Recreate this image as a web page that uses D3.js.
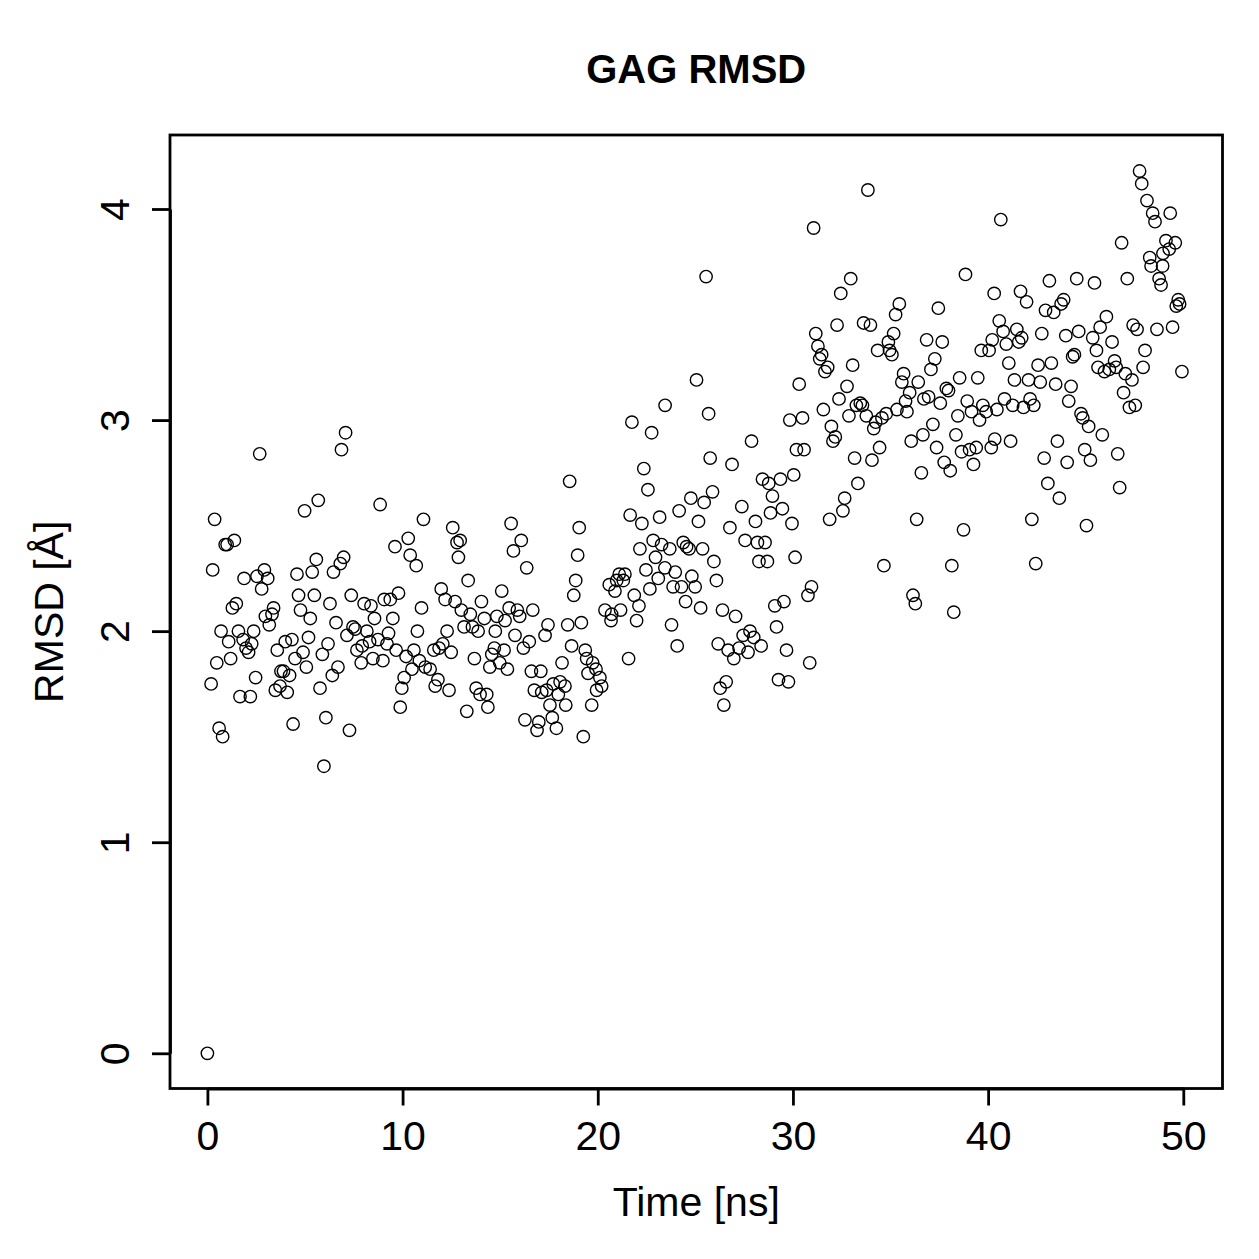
<!DOCTYPE html>
<html>
<head>
<meta charset="utf-8">
<script src="https://cdn.jsdelivr.net/npm/d3@7"></script>
<style>
  body { margin: 0; background: #fff; }
  text { font-family: "Liberation Sans", Arial, Helvetica, sans-serif; fill: #000; }
</style>
</head>
<body>
<svg id="rmsd-plot"></svg>
<script>
//chart texts
let titleText = 'GAG RMSD'
let xLabel = 'Time [ns]'
let yLabel = 'RMSD [Å]'

//tick labels
let xTicks = [0, 10, 20, 30, 40, 50]
let yTicks = [0, 1, 2, 3, 4]

//time (ns), grouped by region
let timeNs = [
  // 0 - 10 ns
  7.08,6.87,2.68,5.68,4.98,8.85,0.37,0.91,1.01,1.38,
  0.27,5.58,6.98,6.81,5.37,4.59,6.46,2.92,2.54,3.09,
  1.88,2.78,4.67,5.48,6.28,7.37,8.03,8.38,9.06,9.37,
  1.48,1.28,4.77,5.27,6.59,8.56,3.39,2.97,3.31,3.17,
  0.70,1.59,2.37,1.09,1.83,2.27,1.98,2.11,7.46,7.57,
  7.15,8.17,9.28,5.18,6.18,5.89,4.33,3.99,3.58,4.90,
  4.49,5.07,7.66,7.93,8.31,8.74,9.20,8.48,7.88,8.99,
  0.48,1.19,6.69,6.40,0.19,2.47,3.77,3.90,4.21,3.72,
  3.48,4.09,5.77,1.67,2.20,0.60,0.78,4.39,6.07,7.28,
  5.97,0.00,
  // 10 - 20 ns
  18.56,11.07,12.57,12.79,12.95,12.86,15.56,16.08,15.68,16.36,
  19.05,18.97,18.87,18.77,9.61,10.29,10.39,10.70,13.36,9.79,
  10.97,11.98,12.18,12.69,13.01,13.47,14.04,14.19,15.08,
  15.46,15.88,16.00,16.67,14.83,15.25,9.50,
  10.76,13.15,13.58,13.87,14.75,15.76,16.49,16.19,17.30,17.45,
  18.46,19.16,12.28,12.06,11.60,11.87,12.49,10.58,9.67,10.18,
  14.70,14.57,15.20,14.98,15.37,14.47,13.68,10.86,11.16,11.41,
  11.81,11.67,10.48,10.08,9.96,9.88,12.38,13.77,13.97,14.31,
  14.37,13.29,18.66,18.17,19.36,19.43,19.74,19.91,19.50,19.94,
  19.69,16.60,17.08,16.75,17.13,17.38,17.72,18.07,18.32,17.98,
  17.55,18.36,16.27,16.98,16.89,17.67,17.88,19.26,20.11,20.20,
  // 20 - 30 ns
  25.55,25.06,23.45,21.75,22.76,25.68,27.88,29.84,30.32,30.18,
  22.36,22.57,25.76,26.88,28.44,28.76,29.36,30.04,28.95,29.46,
  28.85,29.95,30.11,24.77,25.45,25.88,24.17,25.16,23.17,21.66,
  22.26,27.38,28.08,26.77,27.55,28.18,28.57,28.26,28.69,22.84,
  23.27,23.69,22.16,24.38,24.55,24.68,25.37,25.95,22.96,22.47,
  23.10,23.44,23.97,24.82,26.08,21.10,21.39,21.31,20.97,20.59,
  20.88,22.67,23.86,24.29,24.99,21.87,22.11,21.17,20.37,20.71,
  20.68,21.99,24.50,25.27,26.39,27.06,23.78,24.07,21.58,29.07,
  29.54,29.16,29.67,29.26,29.77,26.17,26.68,26.97,27.24,27.45,
  27.80,27.99,28.37,27.70,26.27,26.58,26.46,
  // 30 - 40 ns
  33.84,31.06,38.84,32.96,32.45,35.45,35.26,37.45,32.26,33.62,
  33.97,35.16,34.89,34.95,35.07,34.34,31.17,31.28,31.47,31.37,
  31.78,31.64,36.85,37.65,37.27,37.07,39.65,40.05,33.06,32.77,
  32.36,31.56,32.87,31.97,32.17,32.05,35.67,35.58,36.42,35.98,
  35.77,35.84,35.33,34.78,34.56,34.24,34.14,33.76,33.45,33.25,
  33.56,38.54,39.47,37.86,37.97,36.95,36.71,37.55,38.93,39.73,
  39.90,39.15,39.56,38.45,37.17,36.66,36.06,37.36,38.35,38.64,
  39.05,39.39,37.75,38.06,39.25,36.58,30.49,30.57,34.44,34.05,
  33.16,33.33,32.65,32.56,31.88,36.34,38.74,34.66,38.14,36.15,
  36.27,38.24,30.95,30.77,30.86,
  // 40 - 50 ns
  47.76,47.87,48.14,48.43,48.55,49.33,40.65,46.84,49.11,49.59,
  49.28,48.96,48.28,48.35,48.94,48.76,48.86,43.14,44.54,45.45,
  47.13,40.31,41.66,41.97,43.87,43.74,43.36,42.94,49.74,49.81,
  49.64,40.57,40.77,41.47,41.72,41.57,40.93,40.21,42.75,43.98,
  44.64,45.36,45.74,46.06,46.35,45.55,47.43,47.63,48.65,49.45,
  48.04,44.42,44.33,41.06,42.56,43.24,45.63,45.96,46.21,46.48,
  46.56,47.03,47.37,47.94,49.93,41.35,42.07,42.67,43.46,44.25,
  44.13,40.84,41.26,40.45,41.81,42.15,42.34,46.94,47.24,47.54,
  44.76,44.85,45.15,45.85,40.34,40.16,41.15,43.55,42.87,44.05,
  44.95,45.24,46.64,43.06,43.65,46.74,42.24,45.04,42.44
]

//RMSD (Å), same order as timeNs
let rmsdA = [
  // 0 - 10 ns
  2.94,2.86,2.84,2.62,2.57,2.60,2.53,2.41,2.41,2.43,
  2.29,2.34,2.35,2.32,2.28,2.27,2.28,2.29,2.26,2.25,
  2.25,2.20,2.17,2.17,2.13,2.17,2.13,2.12,2.15,2.15,
  2.13,2.11,2.10,2.06,2.04,2.06,2.11,2.07,2.08,2.03,
  2.00,2.00,2.00,1.95,1.96,1.94,1.92,1.90,2.02,2.01,
  1.98,2.00,1.99,1.97,1.94,1.89,1.96,1.95,1.91,1.90,
  1.87,1.83,1.91,1.93,1.95,1.96,1.94,1.87,1.85,1.86,
  1.85,1.87,1.83,1.79,1.75,1.78,1.81,1.81,1.79,1.74,
  1.72,1.71,1.73,1.69,1.69,1.54,1.50,1.56,1.59,1.53,
  1.36,0.00,
  // 10 - 20 ns
  2.71,2.53,2.49,2.42,2.43,2.35,2.51,2.43,2.38,2.30,
  2.49,2.36,2.24,2.17,2.40,2.44,2.36,2.31,2.24,2.18,
  2.11,2.20,2.15,2.14,2.10,2.08,2.14,2.06,2.19,
  2.11,2.10,2.07,2.10,2.07,2.05,2.06,
  2.00,2.02,2.02,2.00,2.00,1.98,1.95,1.92,1.98,2.03,
  2.03,2.04,2.00,1.94,1.91,1.92,1.90,1.91,1.91,1.88,
  1.92,1.89,1.91,1.85,1.82,1.83,1.87,1.86,1.83,1.82,
  1.77,1.74,1.82,1.78,1.73,1.64,1.72,1.73,1.70,1.70,
  1.64,1.62,1.93,1.85,1.91,1.87,1.85,1.82,1.80,1.72,
  1.65,1.81,1.81,1.72,1.71,1.72,1.75,1.76,1.74,1.70,
  1.65,1.65,1.58,1.57,1.53,1.59,1.54,1.50,1.78,1.74,
  // 20 - 30 ns
  3.68,3.19,3.07,2.99,2.94,3.03,2.90,3.00,3.17,2.86,
  2.77,2.67,2.82,2.79,2.72,2.70,2.72,2.74,2.64,2.58,
  2.56,2.51,2.35,2.63,2.61,2.66,2.57,2.52,2.54,2.55,
  2.51,2.59,2.52,2.49,2.43,2.42,2.42,2.33,2.33,2.43,
  2.41,2.39,2.39,2.42,2.40,2.39,2.39,2.33,2.35,2.29,
  2.25,2.30,2.28,2.26,2.24,2.27,2.27,2.24,2.24,2.22,
  2.19,2.20,2.21,2.21,2.21,2.17,2.12,2.10,2.10,2.08,
  2.05,2.05,2.14,2.11,2.10,2.07,2.03,1.93,1.87,2.12,
  2.14,2.02,1.91,1.77,1.76,1.94,1.91,1.87,1.92,1.98,
  2.00,1.97,1.93,1.90,1.73,1.76,1.65,
  // 30 - 40 ns
  4.09,3.91,3.69,3.67,3.60,3.55,3.50,3.53,3.45,3.46,
  3.45,3.41,3.37,3.33,3.31,3.33,3.41,3.35,3.31,3.29,
  3.25,3.23,3.38,3.37,3.29,3.24,3.33,3.33,3.26,3.16,
  3.10,3.05,3.02,2.97,2.92,2.90,3.22,3.18,3.18,3.13,
  3.09,3.04,3.05,3.03,3.01,2.99,2.96,3.02,3.08,3.07,
  3.07,3.20,3.20,3.15,3.14,3.11,3.10,3.08,3.09,3.07,
  3.04,3.04,3.00,3.02,2.98,2.93,2.90,2.87,2.93,2.85,
  2.86,2.87,2.80,2.76,2.79,2.75,3.01,2.86,2.87,2.81,
  2.82,2.70,2.63,2.57,2.53,2.53,2.48,2.31,2.31,2.17,
  2.13,2.09,2.21,2.17,1.85,
  // 40 - 50 ns
  4.18,4.12,4.04,3.98,3.94,3.98,3.95,3.84,3.85,3.84,
  3.81,3.79,3.77,3.73,3.73,3.67,3.64,3.66,3.67,3.65,
  3.67,3.60,3.61,3.56,3.57,3.55,3.51,3.52,3.57,3.55,
  3.54,3.47,3.42,3.43,3.39,3.37,3.36,3.38,3.41,3.40,
  3.42,3.39,3.44,3.49,3.37,3.33,3.45,3.43,3.43,3.44,
  3.33,3.31,3.30,3.27,3.26,3.27,3.25,3.23,3.24,3.28,
  3.25,3.22,3.19,3.25,3.23,3.19,3.19,3.18,3.17,3.16,
  3.09,3.10,3.07,3.05,3.06,3.10,3.07,3.13,3.06,3.07,
  3.03,3.01,2.97,2.93,2.91,2.87,2.90,2.90,2.82,2.80,
  2.86,2.81,2.84,2.70,2.63,2.68,2.53,2.50,2.32
]

//pair up time and rmsd
let points = timeNs.map((t, i) => ({ t: t, r: rmsdA[i] }))

//page and plotting box
let outerWidth = 1259
let outerHeight = 1259
let box = { left: 170, right: 1222.5, top: 135, bottom: 1088.5 }

let svg = d3
  .select('svg#rmsd-plot')
  .attr('width', outerWidth)
  .attr('height', outerHeight)

//scales (R style: ticks sit inside the box with 4% padding)
let xScale = d3.scaleLinear().domain([0, 50]).range([207.4, 1183.3])
let yScale = d3.scaleLinear().domain([0, 4]).range([1053.3, 209])

//x axis
let xAxis = d3.axisBottom(xScale)
  .tickValues(xTicks)
  .tickFormat(d3.format('d'))
  .tickSize(17)
  .tickSizeOuter(0)
let gx = svg
  .append('g')
  .attr('transform', 'translate(0,' + box.bottom + ')')
  .call(xAxis)
gx.selectAll('text')
  .attr('y', 61)
  .attr('dy', 0)
  .style('font-size', '41px')

//y axis, labels parallel to the axis
let yAxis = d3.axisLeft(yScale)
  .tickValues(yTicks)
  .tickFormat(d3.format('d'))
  .tickSize(18)
  .tickSizeOuter(0)
let gy = svg
  .append('g')
  .attr('transform', 'translate(' + box.left + ',0)')
  .call(yAxis)
gy.selectAll('text')
  .attr('x', 0)
  .attr('y', 0)
  .attr('dy', 0)
  .attr('text-anchor', 'middle')
  .attr('transform', 'translate(-41,0) rotate(-90)')
  .style('font-size', '41px')

svg.selectAll('.domain, .tick line')
  .attr('stroke', '#000')
  .attr('stroke-width', 2.8)
svg.selectAll('.tick text').attr('fill', '#000')

//frame around plot region
svg
  .append('rect')
  .attr('x', box.left)
  .attr('y', box.top)
  .attr('width', box.right - box.left)
  .attr('height', box.bottom - box.top)
  .attr('fill', 'none')
  .attr('stroke', '#000')
  .attr('stroke-width', 2.8)

//open circles
svg
  .append('g')
  .selectAll('circle')
  .data(points)
  .join('circle')
  .attr('cx', d => xScale(d.t))
  .attr('cy', d => yScale(d.r))
  .attr('r', 6.2)
  .attr('fill', 'none')
  .attr('stroke', '#000')
  .attr('stroke-width', 1.4)

//title and axis labels
svg
  .append('text')
  .attr('x', (box.left + box.right) / 2)
  .attr('y', 83)
  .attr('text-anchor', 'middle')
  .style('font-size', '40px')
  .style('font-weight', 'bold')
  .text(titleText)

svg
  .append('text')
  .attr('x', (box.left + box.right) / 2)
  .attr('y', 1216)
  .attr('text-anchor', 'middle')
  .style('font-size', '41px')
  .text(xLabel)

svg
  .append('text')
  .attr('text-anchor', 'middle')
  .attr('transform', 'translate(63,' + (box.top + box.bottom) / 2 + ') rotate(-90)')
  .style('font-size', '41px')
  .text(yLabel)
</script>
</body>
</html>
